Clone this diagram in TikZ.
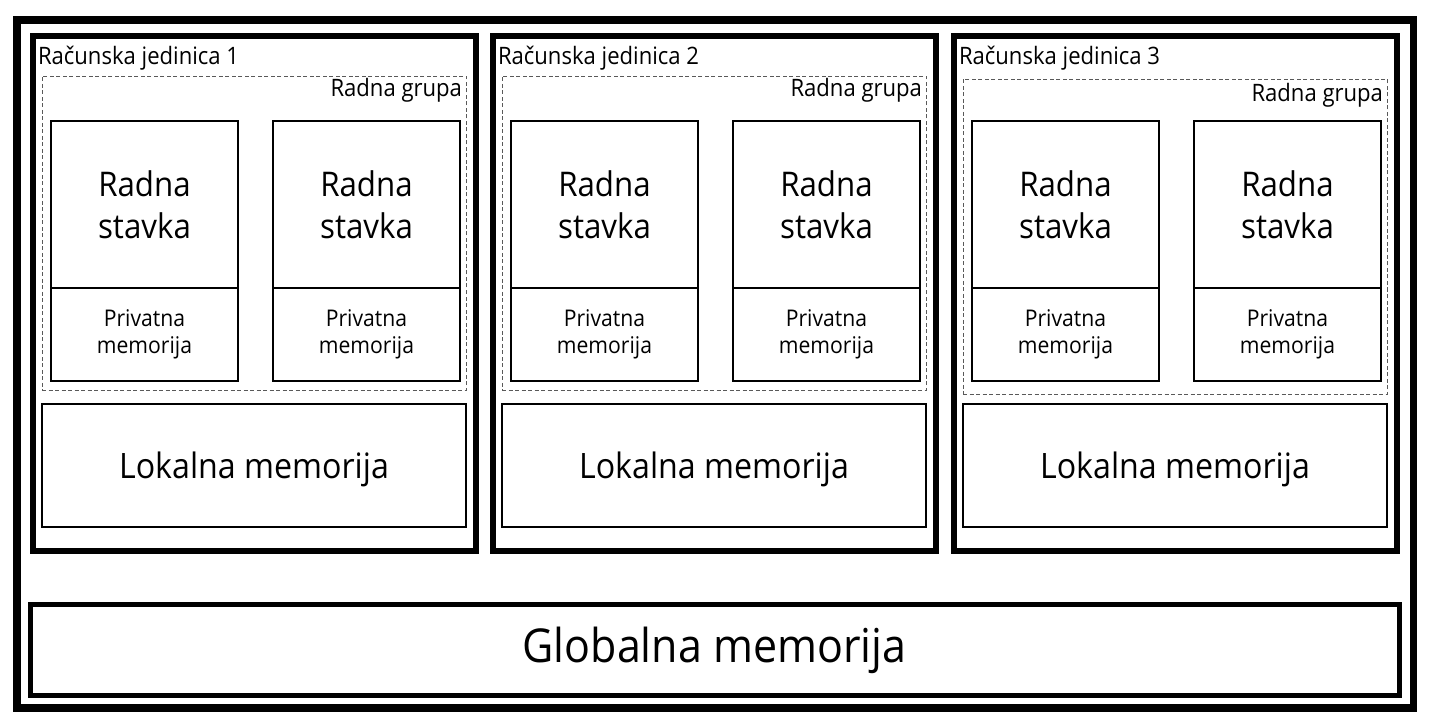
\documentclass[tikz,border=0pt]{standalone}
\usepackage{fontspec}
\setmainfont{Open Sans}[FakeStretch=0.92]
\begin{document}
\begin{tikzpicture}[x=1pt,y=-1pt,
  every node/.style={outer sep=0pt, inner sep=0pt},
  outerbox/.style={draw=black, line width=7.5pt, rectangle},
  cubox/.style={draw=black, line width=5.5pt, rectangle},
  rgbox/.style={draw=black!65, line width=0.9pt, dash pattern=on 4pt off 2.5pt, rectangle},
  wibox/.style={draw=black, line width=2pt, rectangle, align=center, font=\fontsize{34}{42}\selectfont},
  pmbox/.style={draw=black, line width=2pt, rectangle, align=center, font=\fontsize{23}{27}\selectfont},
  lmbox/.style={draw=black, line width=2.5pt, rectangle, text depth=0pt, font=\fontsize{35}{42}\selectfont},
  gmbox/.style={draw=black, line width=5pt, rectangle, font=\fontsize{46.7}{56}\selectfont},
  lbl/.style={font=\fontsize{24}{29}\selectfont},
]
\useasboundingbox (0,0) rectangle (1430,727);
\fill[white] (0,0) rectangle (1430,727);

\node[outerbox, minimum width=1396.5, minimum height=688] (outer) at (715.25,364) {};
\node[gmbox, minimum width=1369, minimum height=91] (gm) at (714.5,650) {Globalna memorija};

% #1 index, #2 left x, #3 dashed centre y, #4 dashed height, #5 group label baseline
\newcommand\drawcu[5]{%
  \node[cubox, minimum width=443, minimum height=515] (cu#1) at (#2+221.5,293.5) {};
  \node[lbl, anchor=base west] (cul#1) at (#2+5,65) {Računska jedinica #1};
  \node[rgbox, minimum width=424, minimum height=#4] (rg#1) at (#2+221,#3) {};
  \node[lbl, anchor=base east] (rgl#1) at (#2+429,#5) {Radna grupa};
  \node[wibox, minimum width=187, minimum height=167] (wi#1a) at (#2+111.5,204.5) {Radna\\stavka};
  \node[pmbox, minimum width=187, minimum height=93] (pm#1a) at (#2+111.5,334.5) {Privatna\\memorija};
  \node[wibox, minimum width=187, minimum height=167] (wi#1b) at (#2+333.5,204.5) {Radna\\stavka};
  \node[pmbox, minimum width=187, minimum height=93] (pm#1b) at (#2+333.5,334.5) {Privatna\\memorija};
  \node[lmbox, minimum width=424, minimum height=123] (lm#1) at (#2+221,465.5) {Lokalna memorija};
}
\drawcu{1}{33}{233}{314}{97}
\drawcu{2}{493}{233}{314}{97}
\drawcu{3}{954}{236.5}{315}{102}
\end{tikzpicture}
\end{document}
